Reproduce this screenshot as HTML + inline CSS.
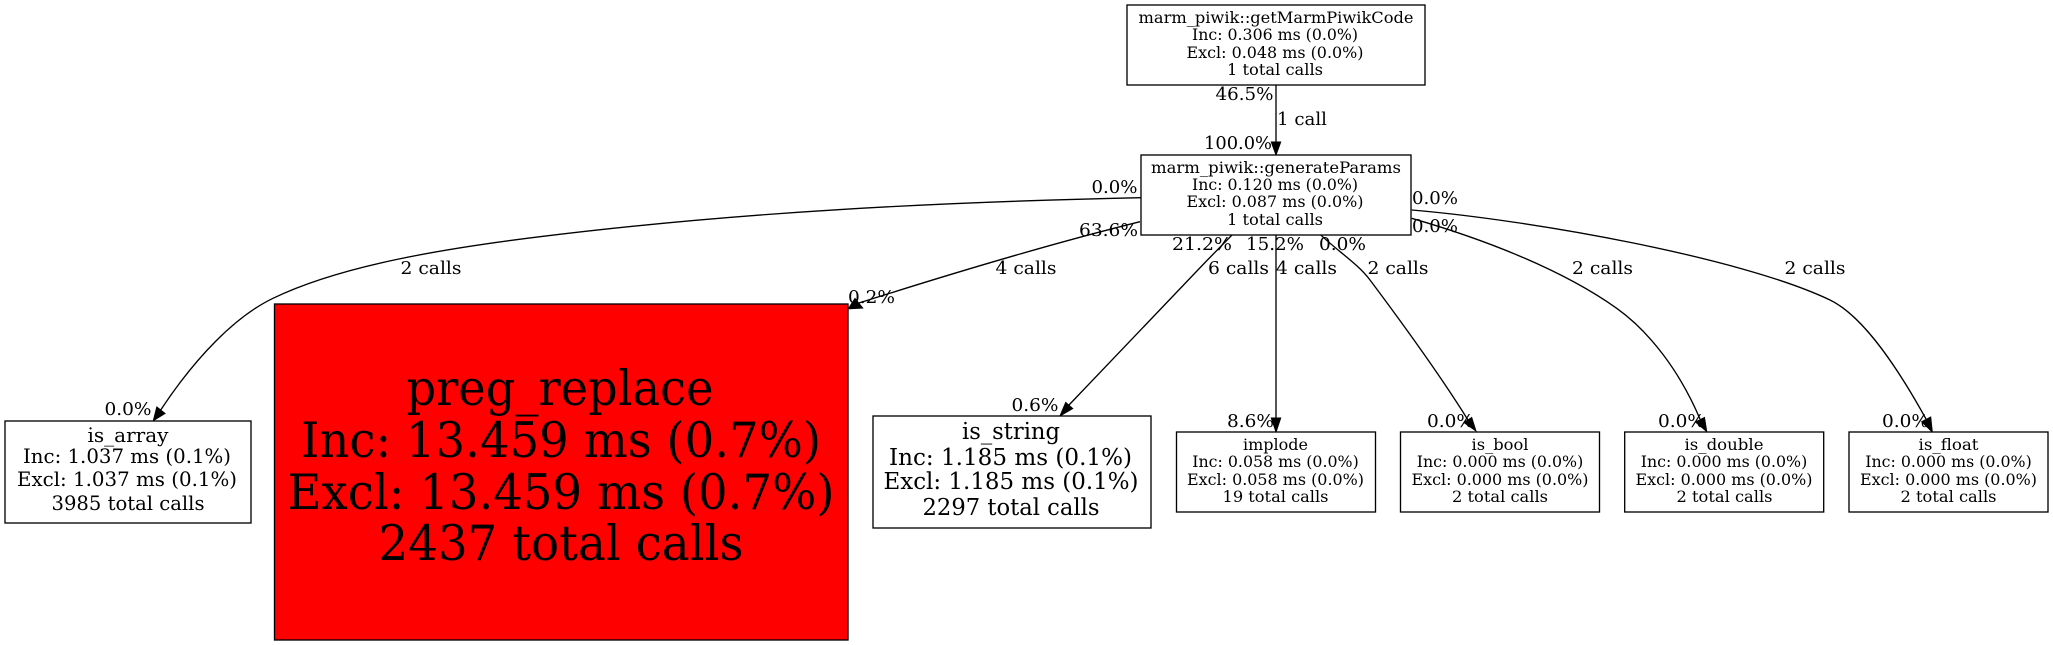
<!DOCTYPE html>
<html><head><meta charset="utf-8"><style>
html,body{margin:0;padding:0;background:#fff;width:2053px;height:645px;overflow:hidden}
svg{display:block}
text{font-family:"DejaVu Serif",serif;fill:#000;text-anchor:middle}
.s{font-size:16px}.e{font-size:18px}.a{font-size:20px}.t{font-size:23px}.p{font-size:49px}
rect{stroke:#000;stroke-width:1.33}
path{fill:none;stroke:#000;stroke-width:1.33}
polygon{fill:#000;stroke:#000;stroke-width:1}
</style></head><body>
<svg xmlns="http://www.w3.org/2000/svg" width="2053" height="645" viewBox="0 0 2053 645">
<rect width="2053" height="645" fill="#fff" style="stroke:none"/>
<path d="M1276,85L1276,142"/><polygon points="1276,155 1271.3,142 1280.7,142"/>
<path d="M1141,197.7C940,202 740,212 540,236.7C440,249 340,266 273,298.3C235,316.5 195,358 160.7,410"/><polygon points="153.3,420.7 156.8,407 165,413.5"/>
<path d="M1140,221.7C1050,244 950,274 859,303"/><polygon points="848.3,308.8 855,298.5 862.7,308"/>
<path d="M1232,235L1205.5,262L1069,405"/><polygon points="1060,416 1065.7,402.4 1072.7,408.6"/>
<path d="M1276,235L1276,418"/><polygon points="1276,432 1271.3,418 1280.7,418"/>
<path d="M1320,234.3C1340,253 1358,264 1370,280C1400,320 1440,375 1468,420"/><polygon points="1476,431 1471.7,417.5 1464,422.5"/>
<path d="M1411.7,218.3C1480,238 1560,268 1616.7,308.3C1650,332 1680,372 1700,419"/><polygon points="1706.7,431.5 1704.5,417.5 1695.5,422"/>
<path d="M1411.7,210C1530,220 1740,257 1830,300C1865,317 1900,372 1926,419"/><polygon points="1932.3,432 1930.7,417 1921.7,421.7"/>

<rect x="1127" y="5" width="298" height="80" fill="#fff"/>
<rect x="1141" y="155" width="270" height="80" fill="#fff"/>
<rect x="5" y="421" width="246" height="102" fill="#fff"/>
<rect x="274.5" y="304" width="573.5" height="336" fill="#ff0000"/>
<rect x="873" y="416" width="278" height="112" fill="#fff"/>
<rect x="1176.5" y="432" width="199" height="80" fill="#fff"/>
<rect x="1400.5" y="432" width="199" height="80" fill="#fff"/>
<rect x="1624.7" y="432" width="199" height="80" fill="#fff"/>
<rect x="1849" y="432" width="199" height="80" fill="#fff"/>

<text class="s" x="1276" y="23" textLength="275" lengthAdjust="spacingAndGlyphs">marm_piwik::getMarmPiwikCode</text>
<text class="s" x="1275" y="40" textLength="166" lengthAdjust="spacingAndGlyphs">Inc: 0.306 ms (0.0%)</text>
<text class="s" x="1275" y="58" textLength="177" lengthAdjust="spacingAndGlyphs">Excl: 0.048 ms (0.0%)</text>
<text class="s" x="1275" y="75" textLength="96" lengthAdjust="spacingAndGlyphs">1 total calls</text>

<text class="s" x="1276" y="173" textLength="250" lengthAdjust="spacingAndGlyphs">marm_piwik::generateParams</text>
<text class="s" x="1275" y="190" textLength="166" lengthAdjust="spacingAndGlyphs">Inc: 0.120 ms (0.0%)</text>
<text class="s" x="1275" y="207" textLength="177" lengthAdjust="spacingAndGlyphs">Excl: 0.087 ms (0.0%)</text>
<text class="s" x="1275" y="225" textLength="96" lengthAdjust="spacingAndGlyphs">1 total calls</text>

<text class="a" x="128" y="442" textLength="81" lengthAdjust="spacingAndGlyphs">is_array</text>
<text class="a" x="127" y="463" textLength="208" lengthAdjust="spacingAndGlyphs">Inc: 1.037 ms (0.1%)</text>
<text class="a" x="127" y="486" textLength="220" lengthAdjust="spacingAndGlyphs">Excl: 1.037 ms (0.1%)</text>
<text class="a" x="128" y="510" textLength="153" lengthAdjust="spacingAndGlyphs">3985 total calls</text>

<text class="p" x="560" y="405" textLength="307" lengthAdjust="spacingAndGlyphs">preg_replace</text>
<text class="p" x="561" y="457" textLength="520" lengthAdjust="spacingAndGlyphs">Inc: 13.459 ms (0.7%)</text>
<text class="p" x="561" y="509" textLength="547" lengthAdjust="spacingAndGlyphs">Excl: 13.459 ms (0.7%)</text>
<text class="p" x="561" y="560" textLength="365" lengthAdjust="spacingAndGlyphs">2437 total calls</text>

<text class="t" x="1011" y="439" textLength="98" lengthAdjust="spacingAndGlyphs">is_string</text>
<text class="t" x="1010.5" y="465" textLength="243" lengthAdjust="spacingAndGlyphs">Inc: 1.185 ms (0.1%)</text>
<text class="t" x="1011" y="489" textLength="255" lengthAdjust="spacingAndGlyphs">Excl: 1.185 ms (0.1%)</text>
<text class="t" x="1011" y="515" textLength="177" lengthAdjust="spacingAndGlyphs">2297 total calls</text>

<text class="s" x="1275.5" y="450" textLength="65" lengthAdjust="spacingAndGlyphs">implode</text>
<text class="s" x="1275.5" y="467" textLength="166.5" lengthAdjust="spacingAndGlyphs">Inc: 0.058 ms (0.0%)</text>
<text class="s" x="1275.5" y="485" textLength="177" lengthAdjust="spacingAndGlyphs">Excl: 0.058 ms (0.0%)</text>
<text class="s" x="1275.5" y="502" textLength="106" lengthAdjust="spacingAndGlyphs">19 total calls</text>

<text class="s" x="1500" y="450" textLength="57" lengthAdjust="spacingAndGlyphs">is_bool</text>
<text class="s" x="1500" y="467" textLength="166.5" lengthAdjust="spacingAndGlyphs">Inc: 0.000 ms (0.0%)</text>
<text class="s" x="1500" y="485" textLength="177" lengthAdjust="spacingAndGlyphs">Excl: 0.000 ms (0.0%)</text>
<text class="s" x="1500" y="502" textLength="96" lengthAdjust="spacingAndGlyphs">2 total calls</text>

<text class="s" x="1724" y="450" textLength="79" lengthAdjust="spacingAndGlyphs">is_double</text>
<text class="s" x="1724" y="467" textLength="166.5" lengthAdjust="spacingAndGlyphs">Inc: 0.000 ms (0.0%)</text>
<text class="s" x="1724" y="485" textLength="177" lengthAdjust="spacingAndGlyphs">Excl: 0.000 ms (0.0%)</text>
<text class="s" x="1724.5" y="502" textLength="96" lengthAdjust="spacingAndGlyphs">2 total calls</text>

<text class="s" x="1948.5" y="450" textLength="60" lengthAdjust="spacingAndGlyphs">is_float</text>
<text class="s" x="1948.5" y="467" textLength="166.5" lengthAdjust="spacingAndGlyphs">Inc: 0.000 ms (0.0%)</text>
<text class="s" x="1948.5" y="485" textLength="177" lengthAdjust="spacingAndGlyphs">Excl: 0.000 ms (0.0%)</text>
<text class="s" x="1948.5" y="502" textLength="96" lengthAdjust="spacingAndGlyphs">2 total calls</text>

<text class="e" x="1244.5" y="100" textLength="58" lengthAdjust="spacingAndGlyphs">46.5%</text>
<text class="e" x="1302" y="125" textLength="50" lengthAdjust="spacingAndGlyphs">1 call</text>
<text class="e" x="1238" y="149" textLength="68" lengthAdjust="spacingAndGlyphs">100.0%</text>
<text class="e" x="1114.5" y="193" textLength="46" lengthAdjust="spacingAndGlyphs">0.0%</text>
<text class="e" x="1108.5" y="236" textLength="59" lengthAdjust="spacingAndGlyphs">63.6%</text>
<text class="e" x="1202" y="250" textLength="60" lengthAdjust="spacingAndGlyphs">21.2%</text>
<text class="e" x="1275" y="250" textLength="58" lengthAdjust="spacingAndGlyphs">15.2%</text>
<text class="e" x="1342.5" y="250" textLength="47" lengthAdjust="spacingAndGlyphs">0.0%</text>
<text class="e" x="1435" y="204" textLength="46" lengthAdjust="spacingAndGlyphs">0.0%</text>
<text class="e" x="1435" y="232" textLength="46" lengthAdjust="spacingAndGlyphs">0.0%</text>
<text class="e" x="431" y="274" textLength="61" lengthAdjust="spacingAndGlyphs">2 calls</text>
<text class="e" x="871.5" y="303" textLength="47" lengthAdjust="spacingAndGlyphs">0.2%</text>
<text class="e" x="128" y="415" textLength="47" lengthAdjust="spacingAndGlyphs">0.0%</text>
<text class="e" x="1026" y="274" textLength="61" lengthAdjust="spacingAndGlyphs">4 calls</text>
<text class="e" x="1238.5" y="274" textLength="61" lengthAdjust="spacingAndGlyphs">6 calls</text>
<text class="e" x="1306.5" y="274" textLength="61" lengthAdjust="spacingAndGlyphs">4 calls</text>
<text class="e" x="1398" y="274" textLength="61" lengthAdjust="spacingAndGlyphs">2 calls</text>
<text class="e" x="1602.5" y="274" textLength="61" lengthAdjust="spacingAndGlyphs">2 calls</text>
<text class="e" x="1815" y="274" textLength="61" lengthAdjust="spacingAndGlyphs">2 calls</text>
<text class="e" x="1035" y="411" textLength="47" lengthAdjust="spacingAndGlyphs">0.6%</text>
<text class="e" x="1250.5" y="427" textLength="47" lengthAdjust="spacingAndGlyphs">8.6%</text>
<text class="e" x="1450.5" y="427" textLength="47" lengthAdjust="spacingAndGlyphs">0.0%</text>
<text class="e" x="1681.5" y="427" textLength="47" lengthAdjust="spacingAndGlyphs">0.0%</text>
<text class="e" x="1905.5" y="427" textLength="47" lengthAdjust="spacingAndGlyphs">0.0%</text>
</svg>
</body></html>
